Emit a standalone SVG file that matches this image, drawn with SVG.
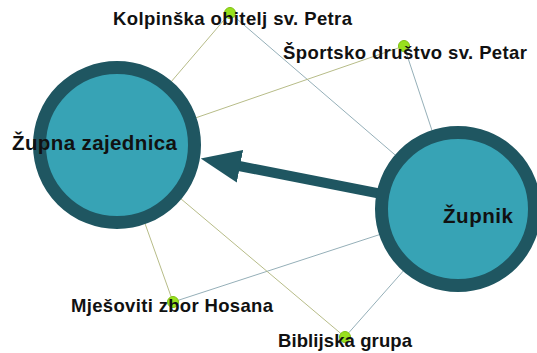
<svg xmlns="http://www.w3.org/2000/svg" width="537" height="353" viewBox="0 0 537 353">
<style>
.e1{stroke:#b7bc88;stroke-width:1;fill:none}
.e2{stroke:#95afb8;stroke-width:1;fill:none}
.big{fill:#37a3b5;stroke:#1f5661;stroke-width:13}
.small{fill:#98e01e;stroke:#80c012;stroke-width:1}
.lbl{font-family:"Liberation Sans",Arial,sans-serif;font-weight:bold;fill:#111}
.s{font-size:18.5px}
.b{font-size:20.5px}
</style>
<defs>
<marker id="ah" markerUnits="userSpaceOnUse" markerWidth="42" markerHeight="34" viewBox="0 -17 42 34" refX="1" refY="0" orient="auto">
<path d="M0,-16.5 L40,0 L0,16.5 Z" fill="#1f5661"/>
</marker>
</defs>
<rect width="537" height="353" fill="#ffffff"/>
<g id="connectors">
<line class="e1" x1="230" y1="13" x2="117" y2="145"/>
<line class="e2" x1="230" y1="13" x2="458" y2="209"/>
<line class="e1" x1="404" y1="46" x2="117" y2="145"/>
<line class="e2" x1="404" y1="46" x2="458" y2="209"/>
<line class="e1" x1="173" y1="302" x2="117" y2="145"/>
<line class="e2" x1="173" y1="302" x2="458" y2="209"/>
<line class="e1" x1="345" y1="337" x2="117" y2="145"/>
<line class="e2" x1="345" y1="337" x2="458" y2="209"/>
<line x1="458" y1="209" x2="239" y2="166" stroke="#1f5661" stroke-width="10" marker-end="url(#ah)"/>
</g>
<g id="zupna-zajednica">
<circle class="big" cx="117" cy="145" r="77.5"/>
<text class="lbl b" x="12" y="150" textLength="165" lengthAdjust="spacing">Župna zajednica</text>
</g>
<g id="zupnik">
<circle class="big" cx="458" cy="209" r="76.5"/>
<text class="lbl b" x="443" y="223" textLength="70" lengthAdjust="spacing">Župnik</text>
</g>
<g id="kolpinska">
<circle class="small" cx="230" cy="13" r="5.5"/>
<text class="lbl s" x="113" y="25" textLength="239" lengthAdjust="spacing">Kolpinška obitelj sv. Petra</text>
</g>
<g id="sportsko">
<circle class="small" cx="404" cy="46" r="5.5"/>
<text class="lbl s" x="283" y="59" textLength="244" lengthAdjust="spacing">Športsko društvo sv. Petar</text>
</g>
<g id="mjesoviti">
<circle class="small" cx="173" cy="302" r="5.5"/>
<text class="lbl s" x="71" y="312" textLength="202" lengthAdjust="spacing">Mješoviti zbor Hosana</text>
</g>
<g id="biblijska">
<circle class="small" cx="345" cy="337" r="5.5"/>
<text class="lbl s" x="278" y="347" textLength="134" lengthAdjust="spacing">Biblijska grupa</text>
</g>
</svg>
